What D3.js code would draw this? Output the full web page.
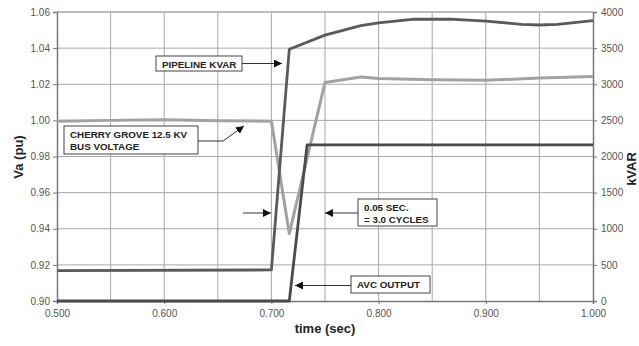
<!DOCTYPE html>
<html><head><meta charset="utf-8">
<script src="https://cdn.jsdelivr.net/npm/d3@7"></script>
<style>
body{margin:0;background:#fff;}
svg{font-family:"Liberation Sans",Arial,sans-serif;}
</style></head>
<body><svg id="c" width="639" height="346"></svg>
<script>
// ---- data ----
const xTicks = [0.5, 0.6, 0.7, 0.8, 0.9, 1.0];
const yLeftTicks = [0.90, 0.92, 0.94, 0.96, 0.98, 1.00, 1.02, 1.04, 1.06];
const yRightTicks = [0, 500, 1000, 1500, 2000, 2500, 3000, 3500, 4000];

const voltageT = [0.5, 0.55, 0.6, 0.65, 0.7, 0.7167, 0.75, 0.7833, 0.8, 0.85, 0.9, 0.95, 1.0];
const voltageV = [0.9995, 1.0, 1.0003, 0.9998, 0.9995, 0.9373, 1.021, 1.024, 1.0232, 1.0225, 1.0222, 1.0234, 1.0243];

const pipelineT = [0.5, 0.7, 0.7167, 0.75, 0.7833, 0.8, 0.8333, 0.8667, 0.9, 0.9333, 0.95, 0.9667, 1.0];
const pipelineV = [420, 430, 3485, 3680, 3810, 3850, 3900, 3900, 3875, 3830, 3820, 3830, 3880];

const avcT = [0.5, 0.7167, 0.7333, 1.0];
const avcV = [0, 0, 2160, 2160];

// ---- layout ----
const svg = d3.select("#c");
const L = 57, R = 593, T = 12, B = 301;
const x = d3.scaleLinear().domain([0.5, 1.0]).range([L, R]);
const yL = d3.scaleLinear().domain([0.90, 1.06]).range([B, T]);
const yR = d3.scaleLinear().domain([0, 4000]).range([B, T]);

// grid
const g = svg.append("g");
g.selectAll(".vg").data(d3.range(0.55, 1.0, 0.05)).enter().append("line")
  .attr("x1", d => x(d)).attr("x2", d => x(d)).attr("y1", T).attr("y2", B)
  .attr("stroke", "#a8a8a8").attr("stroke-width", 1);
g.selectAll(".hg").data(yLeftTicks.slice(1)).enter().append("line")
  .attr("x1", L).attr("x2", R).attr("y1", d => yL(d)).attr("y2", d => yL(d))
  .attr("stroke", "#a8a8a8").attr("stroke-width", 1);

// axes
const axL = d3.axisLeft(yL).tickValues(yLeftTicks).tickFormat(d3.format(".2f")).tickSize(4).tickPadding(3);
const axR = d3.axisRight(yR).tickValues(yRightTicks).tickFormat(d3.format("d")).tickSize(4).tickPadding(4);
const axB = d3.axisBottom(x).tickValues(xTicks).tickFormat(d3.format(".3f")).tickSize(3).tickPadding(6);
function style(sel){
  sel.select(".domain").attr("stroke", "#777").attr("stroke-width", 1.5);
  sel.selectAll(".tick line").attr("stroke", "#777");
  sel.selectAll(".tick text").attr("fill", "#555").style("font-size", "10px").style("font-family", "'Liberation Sans',Arial,sans-serif");
}
svg.append("g").attr("transform", `translate(${L},0)`).call(axL).call(style);
svg.append("g").attr("transform", `translate(${R},0)`).call(axR).call(style);
svg.append("g").attr("transform", `translate(0,${B})`).call(axB).call(style);
svg.append("line").attr("x1", L).attr("x2", R).attr("y1", T).attr("y2", T).attr("stroke", "#a8a8a8");

// lines
const lineV = d3.line().x(d => x(d[0])).y(d => yL(d[1]));
const lineK = d3.line().x(d => x(d[0])).y(d => yR(d[1]));
svg.append("path").datum(voltageT.map((t, i) => [t, voltageV[i]])).attr("d", lineV)
  .attr("fill", "none").attr("stroke", "#a2a2a2").attr("stroke-width", 3).attr("stroke-linejoin", "round");
svg.append("path").datum(avcT.map((t, i) => [t, avcV[i]])).attr("d", lineK)
  .attr("fill", "none").attr("stroke", "#4a4a4a").attr("stroke-width", 2.8).attr("stroke-linejoin", "round");
svg.append("path").datum(pipelineT.map((t, i) => [t, pipelineV[i]])).attr("d", lineK)
  .attr("fill", "none").attr("stroke", "#5a5a5a").attr("stroke-width", 2.8).attr("stroke-linejoin", "round");

// axis titles
svg.append("text").attr("transform", "translate(23,157) rotate(-90)").attr("text-anchor", "middle")
  .style("font-size", "13px").style("font-weight", "bold").attr("fill", "#222").text("Va (pu)");
svg.append("text").attr("transform", "translate(636,169) rotate(-90)").attr("text-anchor", "middle")
  .style("font-size", "13px").style("font-weight", "bold").attr("fill", "#222").text("kVAR");
svg.append("text").attr("x", 325).attr("y", 333).attr("text-anchor", "middle")
  .style("font-size", "13px").style("font-weight", "bold").attr("fill", "#222").text("time (sec)");

// arrow marker
svg.append("defs").append("marker").attr("id", "ah").attr("viewBox", "0 0 10 10")
  .attr("refX", 10).attr("refY", 5).attr("markerWidth", 8).attr("markerHeight", 8)
  .attr("markerUnits", "userSpaceOnUse").attr("orient", "auto")
  .append("path").attr("d", "M0,0 L10,5 L0,10 z").attr("fill", "#111");

function box(x0, y0, w, h, lines){
  svg.append("rect").attr("x", x0).attr("y", y0).attr("width", w).attr("height", h)
    .attr("fill", "#fff").attr("stroke", "#444").attr("stroke-width", 1);
  lines.forEach((s, i) => svg.append("text").attr("x", x0 + 6).attr("y", y0 + 11.5 + i * 12.5)
    .style("font-size", "9.8px").style("font-weight", "bold").attr("fill", "#222").text(s));
}
function arrow(pts){
  svg.append("path").attr("d", d3.line()(pts)).attr("fill", "none").attr("stroke", "#333")
    .attr("stroke-width", 1).attr("marker-end", "url(#ah)");
}

box(156, 56, 86, 15, ["PIPELINE KVAR"]);
arrow([[242, 63.5], [282, 63.5]]);

box(64, 126, 134, 28, ["CHERRY GROVE 12.5 KV", "BUS VOLTAGE"]);
arrow([[198, 141], [223, 141], [244, 126]]);

arrow([[243, 213], [271, 213]]);

box(358, 199, 79, 27, ["0.05 SEC.", "= 3.0 CYCLES"]);
arrow([[358, 213], [325, 213]]);

box(351, 276, 79, 17, ["AVC OUTPUT"]);
arrow([[351, 285.5], [295, 285.5]]);
</script></body></html>
